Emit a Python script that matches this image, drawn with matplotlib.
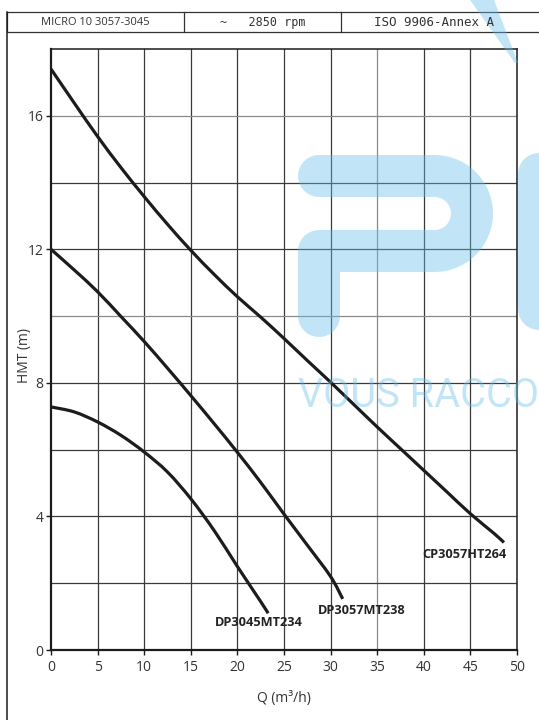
import matplotlib.pyplot as plt
from matplotlib.patches import Polygon, Rectangle, PathPatch
from matplotlib.path import Path
import numpy as np

# curve data (Q in m3/h, HMT in m)
q_cp = [0, 2.5, 5, 7.5, 10, 12.5, 15, 17.5, 20, 22.5, 25, 27.5, 30, 32.5, 35, 37.5, 40, 42.5, 45, 47.5, 48.6]
h_cp = [17.4, 16.38, 15.38, 14.45, 13.58, 12.75, 11.97, 11.25, 10.58, 9.97, 9.33, 8.67, 8.02, 7.35, 6.68, 6.03, 5.38, 4.73, 4.08, 3.5, 3.22]

q_dp57 = [0, 2.5, 5, 7.5, 10, 12.5, 15, 17.5, 20, 22.5, 25, 27.5, 30, 31.3]
h_dp57 = [12.0, 11.38, 10.73, 9.99, 9.24, 8.44, 7.62, 6.78, 5.92, 5.02, 4.07, 3.14, 2.2, 1.53]

q_dp45 = [0, 2.5, 5, 7.5, 10, 12.5, 15, 17.5, 20, 22.5, 23.3]
h_dp45 = [7.28, 7.13, 6.83, 6.43, 5.93, 5.33, 4.53, 3.58, 2.5, 1.45, 1.1]

curve_names = ["CP3057HT264", "DP3057MT238", "DP3045MT234"]
label_pos = [(44.3, 2.85), (33.3, 1.17), (22.3, 0.81)]

x_ticks = [0, 5, 10, 15, 20, 25, 30, 35, 40, 45, 50]
y_ticks = [0, 4, 8, 12, 16]
header = ["MICRO 10 3057-3045", "~   2850 rpm", "ISO 9906-Annex A"]

ink = "#1c1c1c"
grid_c = "#3a3a3a"
light_grid = "#8a8a8a"


def smooth_path(xs, ys):
    # Catmull-Rom through the read points, drawn as cubic Bezier segments
    pts = np.column_stack([xs, ys]).astype(float)
    verts = [pts[0]]
    codes = [Path.MOVETO]
    n = len(pts)
    for i in range(n - 1):
        p0 = pts[max(i - 1, 0)]
        p1 = pts[i]
        p2 = pts[i + 1]
        p3 = pts[min(i + 2, n - 1)]
        c1 = p1 + (p2 - p0) / 6
        c2 = p2 - (p3 - p1) / 6
        verts += [c1, c2, p2]
        codes += [Path.CURVE4] * 3
    return Path(verts, codes)


fig = plt.figure(figsize=(5.39, 7.2), dpi=100)
ax = fig.add_axes([51 / 539, 70 / 720, 466 / 539, 601 / 720])
ax.set_xlim(0, 50)
ax.set_ylim(0, 18)

for gx in range(5, 50, 5):
    ax.axvline(gx, color=light_grid if gx == 35 else grid_c, lw=0.9, zorder=1)
for gy in range(2, 18, 2):
    ax.axhline(gy, color=light_grid if gy in (10, 16) else grid_c, lw=0.9, zorder=1)

for q, h in [(q_cp, h_cp), (q_dp57, h_dp57), (q_dp45, h_dp45)]:
    ax.add_patch(PathPatch(smooth_path(q, h), fill=False, ec=ink, lw=2.3,
                           capstyle="butt", joinstyle="round", zorder=3))

for name, (lx, ly) in zip(curve_names, label_pos):
    ax.text(lx, ly, name, ha="center", va="center", fontsize=9.2, family="Open Sans",
            weight="bold", color="#222222", zorder=4)

ax.set_xticks(x_ticks)
ax.set_yticks(y_ticks)
ax.tick_params(direction="out", length=3.5, width=1, color=ink,
               labelsize=10, labelcolor="#333333")
ax.tick_params(axis="x", pad=4)
ax.tick_params(axis="y", pad=2)
for lab in ax.get_xticklabels() + ax.get_yticklabels():
    lab.set_family("Open Sans")
for s in ax.spines.values():
    s.set_color(ink)
    s.set_linewidth(1.1)
ax.spines["left"].set_linewidth(1.6)
ax.spines["bottom"].set_linewidth(1.6)

ax.set_xlabel("Q (m³/h)", fontsize=10, family="Open Sans", color="#333333", va="center")
ax.xaxis.set_label_coords(0.5, -0.08)
ax.set_ylabel("HMT (m)", fontsize=10, family="Open Sans", color="#333333", va="center")
ax.yaxis.set_label_coords(-0.056, 0.49)

# overlay in pixel coordinates for frame, header and watermark
ov = fig.add_axes([0, 0, 1, 1], zorder=10)
ov.set_xlim(0, 539)
ov.set_ylim(720, 0)
ov.axis("off")
ov.patch.set_alpha(0)

ov.plot([7, 7], [12, 720], color=ink, lw=1.1)
ov.add_patch(Rectangle((7, 12), 545, 20, fill=False, ec="#333333", lw=0.9))
ov.plot([184, 184], [12, 32], color="#333333", lw=0.9)
ov.plot([341, 341], [12, 32], color="#333333", lw=0.9)
ov.text(95, 22.5, header[0], ha="center", va="center", fontsize=8, family="Open Sans", color="#333333")
ov.text(263, 22.5, header[1], ha="center", va="center", fontsize=8.5, family="DejaVu Sans Mono", color="#333333")
ov.text(434, 22.5, header[2], ha="center", va="center", fontsize=9, family="DejaVu Sans Mono", color="#333333")

wm = "#66c0eb"
wa = 0.4
lw_px = 42 * 72 / 100
t = np.linspace(np.pi / 2, -np.pi / 2, 40)
bowl_x = list(434.5 + 37.5 * np.cos(t))
bowl_y = list(213.5 - 37.5 * np.sin(t))
px = [319] + bowl_x + [319, 319]
py = [176] + bowl_y + [251, 316]
ov.plot(px, py, color=wm, alpha=wa, lw=lw_px, solid_capstyle="round", solid_joinstyle="round")
ov.plot([539, 539], [174, 309], color=wm, alpha=wa, lw=lw_px, solid_capstyle="round")
ov.add_patch(Polygon([(470, 0), (494, 0), (518, 63), (515, 63)], closed=True, fc=wm, ec="none", alpha=wa))
ov.text(298, 407, "VOUS RACCO", fontsize=28.5, family="Roboto", weight="normal",
        color=wm, alpha=wa, ha="left", va="baseline")

fig.savefig("out.png", dpi=100)
